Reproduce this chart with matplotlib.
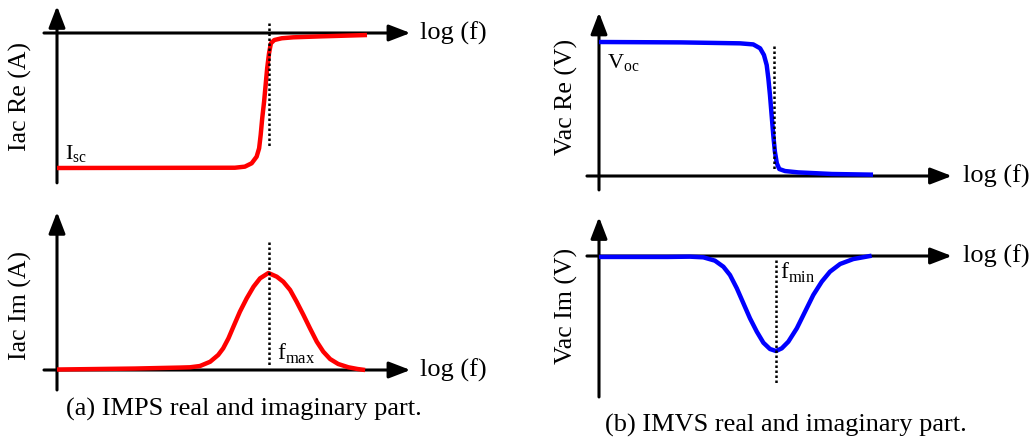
import matplotlib.pyplot as plt

plt.rcParams['font.family'] = 'Liberation Serif'
plt.rcParams['mathtext.fontset'] = 'custom'
plt.rcParams['mathtext.rm'] = 'Liberation Serif'

# IMPS: photocurrent response vs log(f), normalised to Isc / peak
imps_re_logf = [0.00, 3.00, 5.74, 6.06, 6.28, 6.44, 6.52, 6.57, 6.62, 6.68, 6.73, 6.78,
                6.84, 6.90, 7.01, 7.25, 7.62, 8.50, 10.00]
imps_re = [-1.000, -0.999, -0.998, -0.990, -0.965, -0.916, -0.854, -0.756, -0.632, -0.509,
           -0.385, -0.261, -0.150, -0.076, -0.052, -0.039, -0.032, -0.025, -0.015]
imps_im_logf = [0.00, 2.50, 3.97, 4.29, 4.61, 4.94, 5.20, 5.36, 5.53, 5.69, 5.90, 6.12,
                6.34, 6.55, 6.82, 7.09, 7.30, 7.52, 7.73, 7.95, 8.16, 8.38, 8.59, 8.81,
                9.07, 9.40, 9.70, 9.94]
imps_im = [0.005, 0.015, 0.025, 0.028, 0.041, 0.085, 0.155, 0.223, 0.326, 0.446, 0.601, 0.739,
           0.859, 0.945, 1.000, 0.962, 0.910, 0.825, 0.704, 0.567, 0.430, 0.292, 0.189, 0.113,
           0.062, 0.028, 0.010, 0.000]
f_max = 6.83

# IMVS: photovoltage response vs log(f), normalised to Voc / minimum
imvs_re_logf = [0.00, 3.00, 5.15, 5.63, 5.88, 6.02, 6.12, 6.18, 6.24, 6.30, 6.36, 6.42,
                6.49, 6.58, 6.79, 7.27, 8.50, 10.00]
imvs_re = [1.000, 0.997, 0.990, 0.982, 0.953, 0.903, 0.828, 0.729, 0.604, 0.455, 0.306, 0.181,
           0.095, 0.052, 0.037, 0.027, 0.015, 0.010]
imvs_re_step = 6.40
imvs_im_logf = [0.00, 2.50, 3.32, 3.81, 4.23, 4.54, 4.78, 5.03, 5.27, 5.51, 5.76, 6.00,
                6.24, 6.46, 6.67, 6.91, 7.22, 7.52, 7.82, 8.13, 8.43, 8.80, 9.28, 9.95]
imvs_im = [-0.010, -0.010, -0.007, -0.014, -0.049, -0.113, -0.200, -0.340, -0.498, -0.656,
           -0.797, -0.913, -0.979, -1.000, -0.972, -0.902, -0.761, -0.586, -0.411, -0.270,
           -0.165, -0.084, -0.032, 0.003]
f_min = 6.46

W, H = 1035, 441
fig = plt.figure(figsize=(W / 100, H / 100), dpi=100)


def panel(ox, oy, sx, sy):
    # full-figure transparent axes whose origin sits at pixel (ox, oy)
    ax = fig.add_axes([0, 0, 1, 1])
    ax.set_xlim(-ox / sx, (W - ox) / sx)
    ax.set_ylim((oy - H) / sy, oy / sy)
    ax.set_facecolor('none')
    ax.set_axis_off()
    return ax


def draw_axes(ax, x0, x1, y0, y1, ylabel, ylab_pos, xlab_x):
    kw = dict(arrowstyle='-|>,head_length=1.3,head_width=0.5', mutation_scale=10,
              lw=2.2, color='black', shrinkA=0, shrinkB=0)
    ax.annotate('', xy=(x1, 0), xytext=(x0, 0), arrowprops=kw)
    ax.annotate('', xy=(0, y1), xytext=(0, y0), arrowprops=kw)
    ax.text(xlab_x, 0, 'log (f)', fontsize=19, ha='left', va='center')
    ax.text(ylab_pos[0], ylab_pos[1], ylabel, fontsize=18.5, rotation=90,
            ha='center', va='center')


def curve(ax, x, y, color):
    ax.plot(x, y, color=color, lw=3.2, solid_capstyle='butt',
            solid_joinstyle='round', zorder=4)


def dotted(ax, x, y0, y1):
    ax.plot([x, x], [y0, y1], color='black', lw=1.8, ls=(0, (1, 1)), zorder=5)


# (a) IMPS real part
ax = panel(57, 33, 31, 135)
draw_axes(ax, -0.42, 11.40, -1.11, 0.20, 'Iac Re (A)', (-1.19, -0.474), 11.71)
curve(ax, imps_re_logf, imps_re, '#ff0000')
dotted(ax, f_max, 0.074, -0.852)
ax.text(0.26, -0.94, r'I$_{\mathrm{sc}}$', fontsize=16, ha='left', va='baseline')

# (a) IMPS imaginary part
ax = panel(57, 370, 31, 97)
draw_axes(ax, -0.42, 11.40, -0.206, 1.63, 'Iac Im (A)', (-1.19, 0.67), 11.71)
curve(ax, imps_im_logf, imps_im, '#ff0000')
dotted(ax, f_max, 1.32, 0.03)
ax.text(7.10, 0.10, r'f$_{\mathrm{max}}$', fontsize=17, ha='left', va='baseline')

# (b) IMVS real part
ax = panel(599, 176, 27.4, 134)
draw_axes(ax, -0.44, 12.88, -0.104, 1.22, 'Vac Re (V)', (-1.20, 0.59), 13.28)
curve(ax, imvs_re_logf, imvs_re, '#0000ff')
dotted(ax, imvs_re_step, 0.97, 0.045)
ax.text(0.29, 0.806, r'V$_{\mathrm{oc}}$', fontsize=16, ha='left', va='baseline')

# (b) IMVS imaginary part
ax = panel(599, 256, 27.4, 95)
draw_axes(ax, -0.44, 12.88, -1.484, 0.41, 'Vac Im (V)', (-1.20, -0.526), 13.28)
curve(ax, imvs_im_logf, imvs_im, '#0000ff')
dotted(ax, f_min, -0.04, -1.36)
ax.text(6.61, -0.242, r'f$_{\mathrm{min}}$', fontsize=17, ha='left', va='baseline')

fig.text(244 / W, 1 - 409 / H, '(a) IMPS real and imaginary part.', fontsize=19,
         ha='center', va='center')
fig.text(786 / W, 1 - 425 / H, '(b) IMVS real and imaginary part.', fontsize=19,
         ha='center', va='center')

fig.savefig('out.png', dpi=100)
